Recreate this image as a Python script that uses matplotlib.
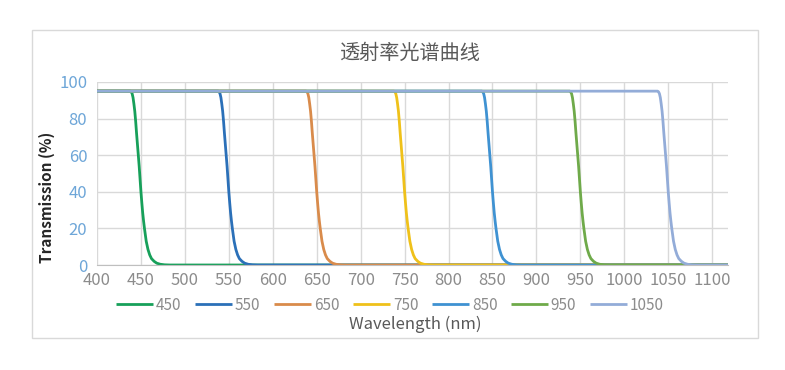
import matplotlib
matplotlib.use("Agg")
import matplotlib.pyplot as plt
from matplotlib.patches import Rectangle

plt.rcParams['font.family'] = ['Noto Sans CJK SC', 'DejaVu Sans']

# filter cut-off wavelengths (nm) and legend labels
cutoffs = [450, 550, 650, 750, 850, 950, 1050]
labels = ["450", "550", "650", "750", "850", "950", "1050"]
colors = ["#17a05a", "#2b70b8", "#d98b4b", "#efc11a", "#3f92d2", "#6faa4a", "#93acd8"]

# edge shape, relative to each cut-off (all filters share it)
edge_offset = [-12, -11, -10, -9, -8, -7, -6, -5, -4, -3, -2, -1, 0, 1, 2, 3, 4, 5,
               6, 8, 10, 12, 15, 18, 22, 27, 33]
edge_value = [95, 94.6, 93.6, 91.5, 88, 84, 78.5, 72, 66, 60, 54, 47, 40, 34, 28.5,
              24, 20, 16.5, 13, 8.5, 5.5, 3.5, 2, 1, 0.4, 0.1, 0]
plateau = 95
wl_start, wl_end = 400, 1118

fig = plt.figure(figsize=(7.85, 3.7), dpi=100)
fig.patches.append(Rectangle((32 / 785, 1 - 338 / 370), 726 / 785, 308 / 370,
                             transform=fig.transFigure, fill=False,
                             edgecolor="#d9d9d9", linewidth=1))

ax = fig.add_axes([97 / 785, 1 - 265 / 370, 631 / 785, 183 / 370])

for c, lab, col in zip(cutoffs, labels, colors):
    x = [wl_start] + [c + o for o in edge_offset] + [wl_end]
    y = [plateau] + edge_value + [0]
    ax.plot(x, y, color=col, linewidth=2.0, label=lab, solid_capstyle="butt")

ax.set_xlim(wl_start, wl_end)
ax.set_ylim(0, 100)
ax.set_xticks(range(400, 1101, 50))
ax.set_yticks(range(0, 101, 20))
ax.grid(True, color="#d9d9d9", linewidth=1)
ax.set_axisbelow(True)
for s in ["top", "right", "left"]:
    ax.spines[s].set_visible(False)
ax.spines["bottom"].set_color("#bfbfbf")
ax.tick_params(length=0)
ax.tick_params(axis="x", labelsize=12, labelcolor="#8c8c8c", pad=5)
ax.tick_params(axis="y", labelsize=12, labelcolor="#6ea6d8", pad=7)

fig.text(47 / 785, 1 - 197 / 370, "Transmission (%)", rotation=90, ha="center",
         va="center", fontsize=11, fontweight="bold", color="#262626")
fig.text(410 / 785, 1 - 53 / 370, "透射率光谱曲线", ha="center", va="center",
         fontsize=14.5, color="#595959")
fig.text(415 / 785, 1 - 324 / 370, "Wavelength (nm)", ha="center", va="center",
         fontsize=12, color="#595959")

ax.legend(loc="center", bbox_to_anchor=(390 / 785, 1 - 305 / 370),
          bbox_transform=fig.transFigure, ncol=7, frameon=False, fontsize=11,
          handlelength=2.4, handletextpad=0.2, columnspacing=0.9,
          labelcolor="#8c8c8c")

fig.savefig("out.png", dpi=100)
